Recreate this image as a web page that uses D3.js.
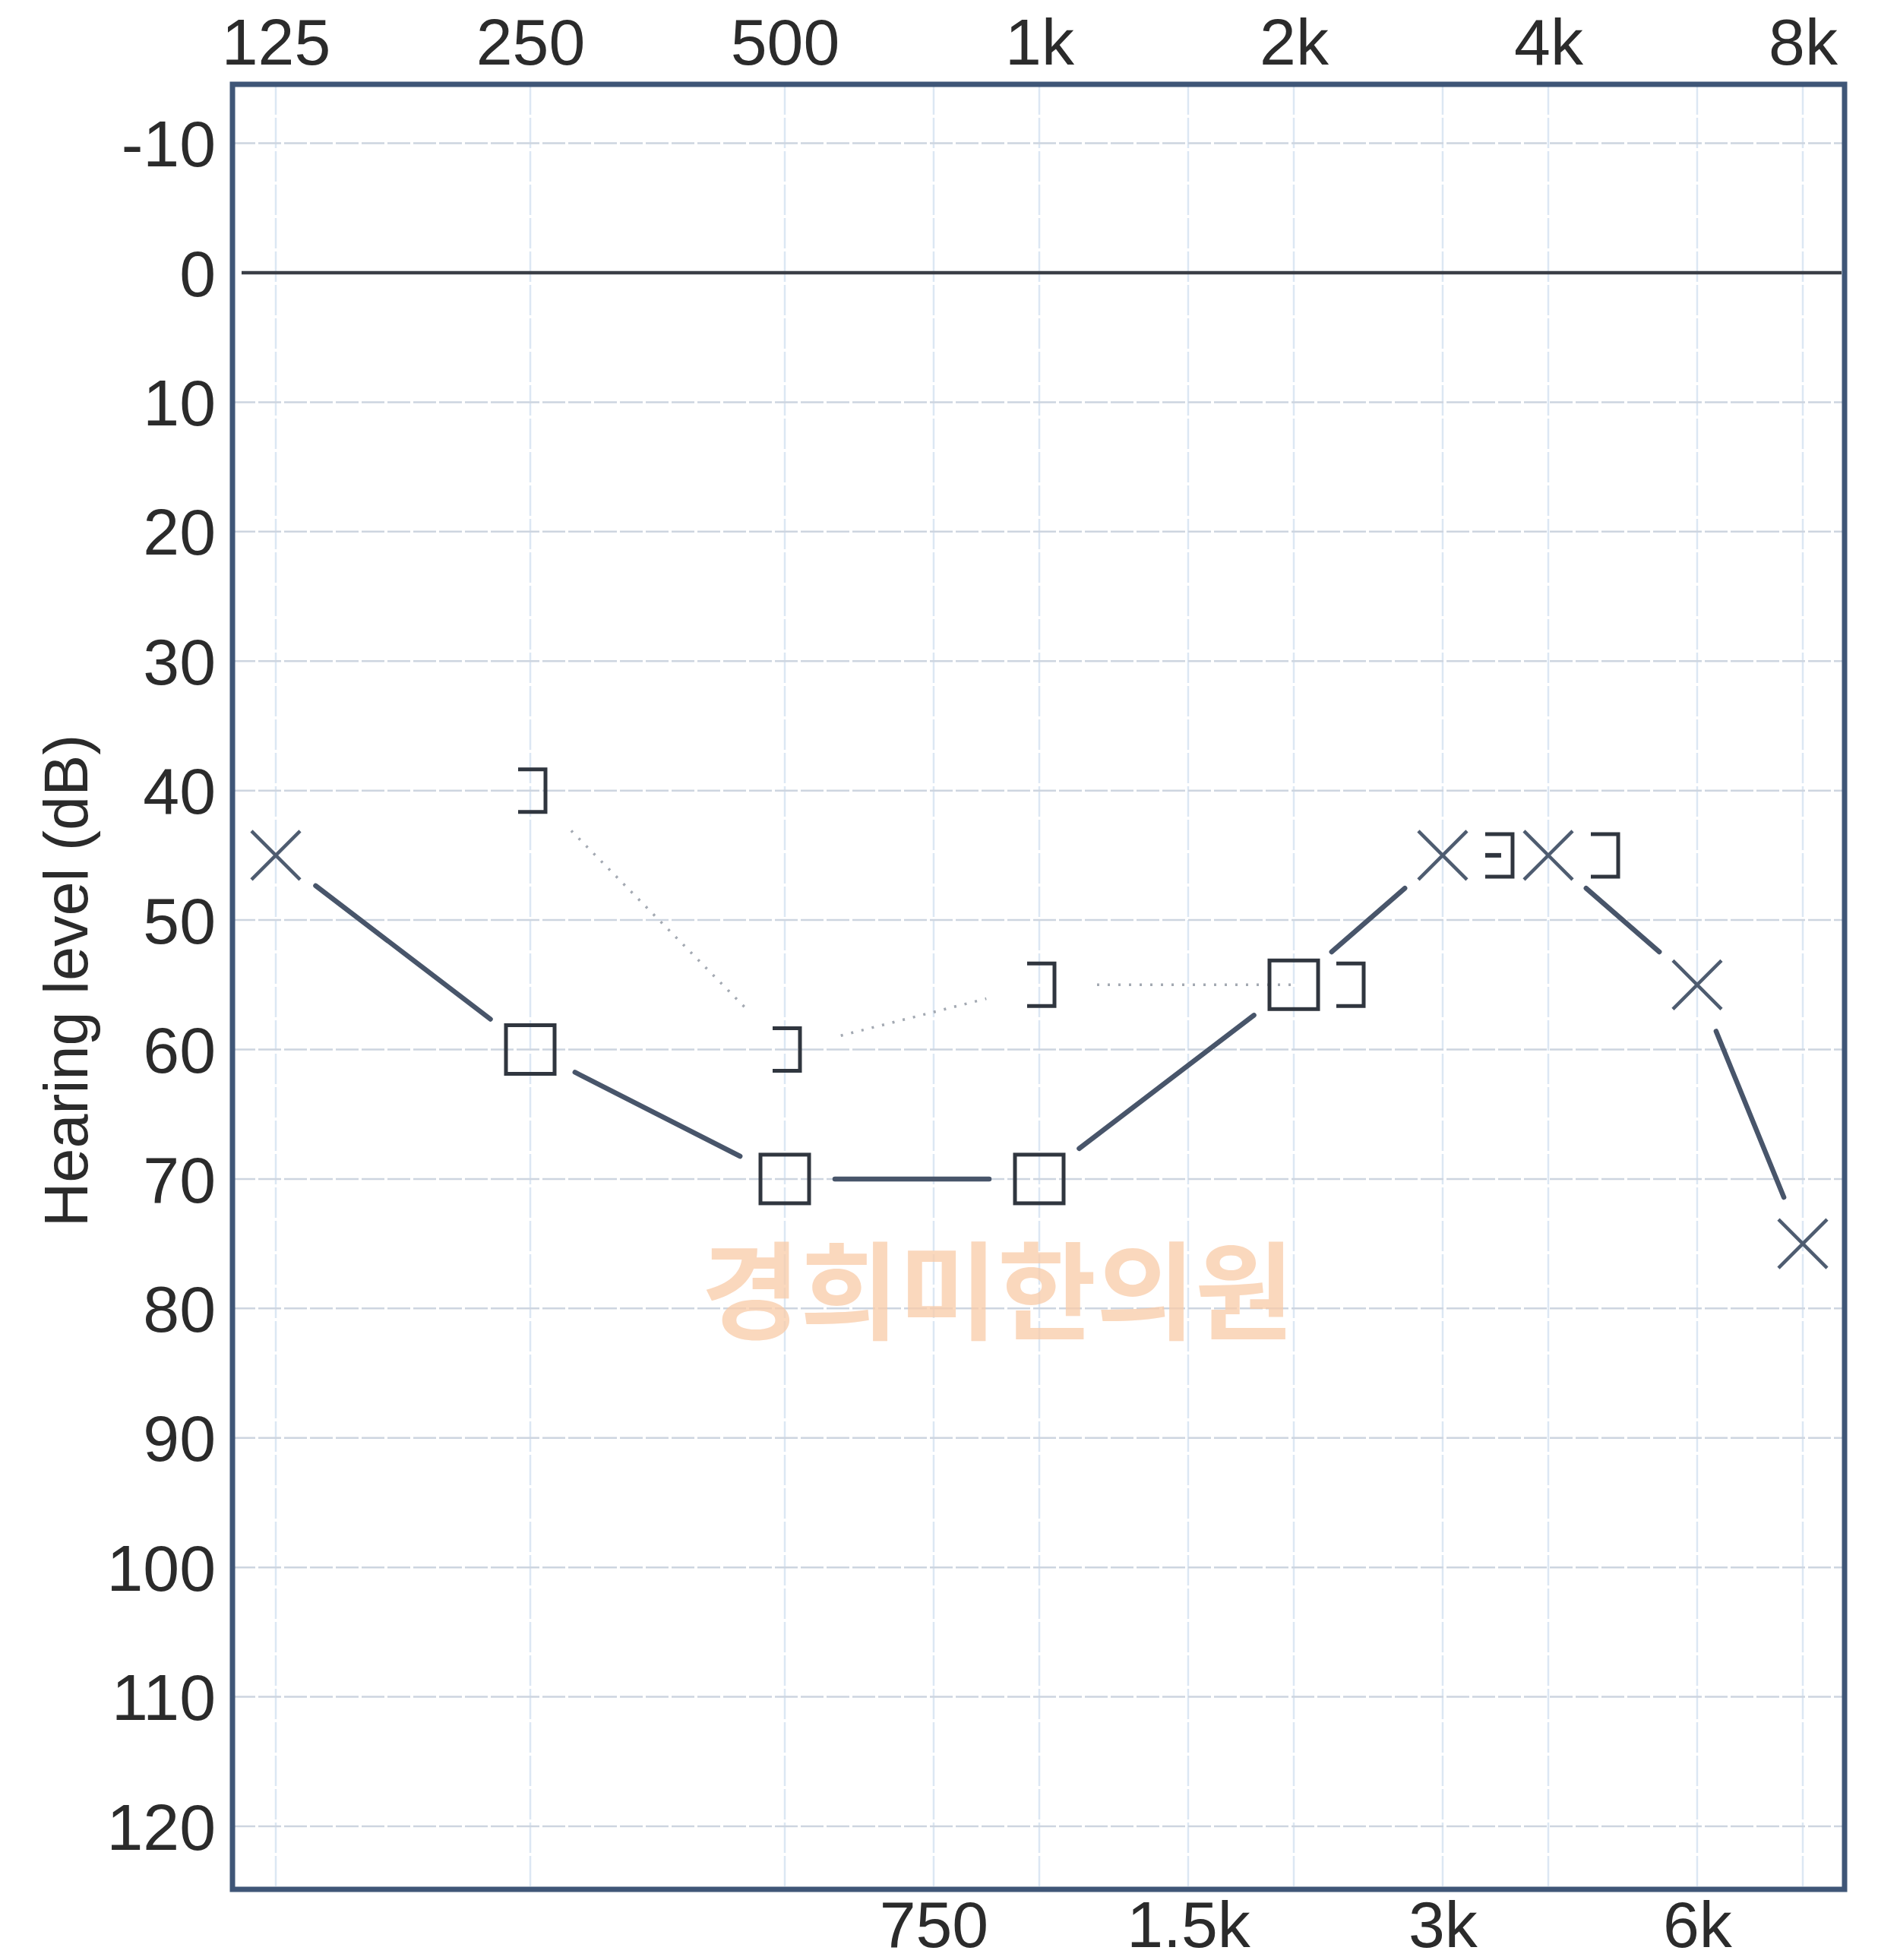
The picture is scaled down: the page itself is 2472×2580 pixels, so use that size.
<!DOCTYPE html>
<html>
<head>
<meta charset="utf-8">
<script src="https://cdn.jsdelivr.net/npm/d3@7"></script>
<style>
  body { margin: 0; background: #fff; }
  svg text { font-family: "Liberation Sans", Arial, sans-serif; fill: #2b2b2b; }
</style>
</head>
<body>
<div id="chart"></div>
<script>
// Données de l'audiogramme
const acFreq = [125, 250, 500, 1000, 2000, 3000, 4000, 6000, 8000];
const acLevel = [45, 60, 70, 70, 55, 45, 45, 55, 75];
const acSymbol = ["x", "square", "square", "square", "square", "x", "x", "x", "x"];

const bcFreq = [250, 500, 1000, 2000, 3000, 4000];
const bcLevel = [40, 60, 55, 55, 45, 45];
const bcSymbol = ["]", "]", "]", "]", "∃", "]"];
const bcLinked = [true, true, true, false, false]; // segments reliés en pointillés

const topTicks = [125, 250, 500, 1000, 2000, 4000, 8000];
const topLabels = ["125", "250", "500", "1k", "2k", "4k", "8k"];
const bottomTicks = [750, 1500, 3000, 6000];
const bottomLabels = ["750", "1.5k", "3k", "6k"];
const dbTicks = [-10, 0, 10, 20, 30, 40, 50, 60, 70, 80, 90, 100, 110, 120];

const yTitle = "Hearing level (dB)";
const watermark = "경희미한의원";

// Dimensions
const W = 2472, H = 2580;
const frame = { left: 306, right: 2428, top: 111, bottom: 2487 };

const x = d3.scaleLog().base(2).domain([125, 8000]).range([363, 2373]);
const y = d3.scaleLinear().domain([0, 120]).range([359, 2404]);

const svg = d3.select("#chart").append("svg")
    .attr("width", W)
    .attr("height", H);

svg.append("rect").attr("width", W).attr("height", H).attr("fill", "#fff");

// Grille
const allFreqs = topTicks.concat(bottomTicks);
svg.append("g").selectAll("line")
    .data(allFreqs)
    .join("line")
    .attr("x1", d => x(d)).attr("x2", d => x(d))
    .attr("y1", frame.top).attr("y2", frame.bottom)
    .attr("stroke", "#dce7f3")
    .attr("stroke-width", 2.5)
    .attr("stroke-dasharray", "40 4");

svg.append("g").selectAll("line")
    .data(dbTicks.filter(d => d !== 0))
    .join("line")
    .attr("x1", frame.left).attr("x2", frame.right)
    .attr("y1", d => y(d)).attr("y2", d => y(d))
    .attr("stroke", "#cdd5e0")
    .attr("stroke-width", 2.5)
    .attr("stroke-dasharray", "30 4");

// Ligne 0 dB
svg.append("line")
    .attr("x1", frame.left + 12).attr("x2", frame.right - 4)
    .attr("y1", y(0)).attr("y2", y(0))
    .attr("stroke", "#3a3e46")
    .attr("stroke-width", 4.5);

// Filigrane
svg.append("text")
    .attr("x", 1313)
    .attr("y", 1691)
    .attr("text-anchor", "middle")
    .attr("dominant-baseline", "central")
    .attr("textLength", 780)
    .attr("lengthAdjust", "spacingAndGlyphs")
    .style("font-family", "'Noto Sans CJK KR', sans-serif")
    .style("font-weight", 700)
    .style("font-size", "140px")
    .style("fill", "#f9cba8")
    .style("opacity", 0.75)
    .text(watermark);

// Cadre
svg.append("rect")
    .attr("x", frame.left).attr("y", frame.top)
    .attr("width", frame.right - frame.left)
    .attr("height", frame.bottom - frame.top)
    .attr("fill", "none")
    .attr("stroke", "#3f5677")
    .attr("stroke-width", 7);

// Axes
const fmtTop = d => topLabels[topTicks.indexOf(d)];
const fmtBottom = d => bottomLabels[bottomTicks.indexOf(d)];

const axTop = svg.append("g")
    .attr("transform", "translate(0,85)")
    .call(d3.axisTop(x).tickValues(topTicks).tickFormat(fmtTop).tickSize(0).tickPadding(0));
const axBottom = svg.append("g")
    .attr("transform", "translate(0,2502)")
    .call(d3.axisBottom(x).tickValues(bottomTicks).tickFormat(fmtBottom).tickSize(0).tickPadding(0));
const axLeft = svg.append("g")
    .attr("transform", "translate(284,0)")
    .call(d3.axisLeft(y).tickValues(dbTicks).tickFormat(d => d).tickSize(0).tickPadding(0));

[axTop, axBottom, axLeft].forEach(g => {
    g.select(".domain").remove();
    g.selectAll("text")
        .style("font-family", "'Liberation Sans', Arial, sans-serif")
        .style("font-size", "86px")
        .attr("fill", "#2e2e2e");
});
axTop.selectAll("text").attr("dy", 0);
axBottom.selectAll("text").attr("dy", "0.71em");
axLeft.selectAll("text").attr("dy", "0.35em");

// Titre de l'axe Y
svg.append("text")
    .attr("transform", "translate(115,1291) rotate(-90)")
    .attr("text-anchor", "middle")
    .style("font-size", "81px")
    .text(yTitle);

// Courbe conduction aérienne (trait plein avec espaces autour des symboles)
const ac = acFreq.map((f, i) => ({ f, db: acLevel[i], sym: acSymbol[i], px: x(f), py: y(acLevel[i]) }));

function gapSegments(pts, gap, keep) {
    const segs = [];
    for (let i = 0; i < pts.length - 1; i++) {
        if (keep && !keep[i]) continue;
        const a = pts[i], b = pts[i + 1];
        const dx = b.px - a.px, dy = b.py - a.py;
        const len = Math.hypot(dx, dy);
        if (len < 2 * gap + 20) continue;
        const ux = dx / len, uy = dy / len;
        segs.push({ x1: a.px + ux * gap, y1: a.py + uy * gap, x2: b.px - ux * gap, y2: b.py - uy * gap });
    }
    return segs;
}

svg.append("g").selectAll("line")
    .data(gapSegments(ac, 66))
    .join("line")
    .attr("x1", d => d.x1).attr("y1", d => d.y1)
    .attr("x2", d => d.x2).attr("y2", d => d.y2)
    .attr("stroke", "#48556a")
    .attr("stroke-width", 6.5)
    .attr("stroke-linecap", "round");

// Conduction osseuse : décalée à droite si superposée au symbole aérien
const bc = bcFreq.map((f, i) => {
    const j = acFreq.indexOf(f);
    const overlap = j >= 0 && acLevel[j] === bcLevel[i];
    return { f, db: bcLevel[i], sym: bcSymbol[i], px: x(f) + (overlap ? 74 : 2), py: y(bcLevel[i]) };
});

svg.append("g").selectAll("line")
    .data(gapSegments(bc, 74, bcLinked))
    .join("line")
    .attr("x1", d => d.x1).attr("y1", d => d.y1)
    .attr("x2", d => d.x2).attr("y2", d => d.y2)
    .attr("stroke", "#a3a9b2")
    .attr("stroke-width", 3.5)
    .attr("stroke-dasharray", "3 11");

// Symboles aériens
const acG = svg.append("g");
ac.forEach(d => {
    if (d.sym === "x") {
        const r = 32;
        acG.append("path")
            .attr("d", `M${d.px - r},${d.py - r}L${d.px + r},${d.py + r}M${d.px - r},${d.py + r}L${d.px + r},${d.py - r}`)
            .attr("stroke", "#4e5c70")
            .attr("stroke-width", 4.5)
            .attr("fill", "none");
    } else {
        acG.append("rect")
            .attr("x", d.px - 32).attr("y", d.py - 32)
            .attr("width", 64).attr("height", 64)
            .attr("fill", "none")
            .attr("stroke", "#30363f")
            .attr("stroke-width", 5);
    }
});

// Symboles osseux
const bcG = svg.append("g");
bc.forEach(d => {
    const hw = 18, hh = 28;
    bcG.append("path")
        .attr("d", `M${d.px - hw},${d.py - hh}H${d.px + hw}V${d.py + hh}H${d.px - hw}`)
        .attr("stroke", "#30363f")
        .attr("stroke-width", 5)
        .attr("fill", "none");
    if (d.sym === "∃") {
        bcG.append("line")
            .attr("x1", d.px - hw).attr("x2", d.px + 3)
            .attr("y1", d.py).attr("y2", d.py)
            .attr("stroke", "#30363f")
            .attr("stroke-width", 6);
    }
});
</script>
</body>
</html>
